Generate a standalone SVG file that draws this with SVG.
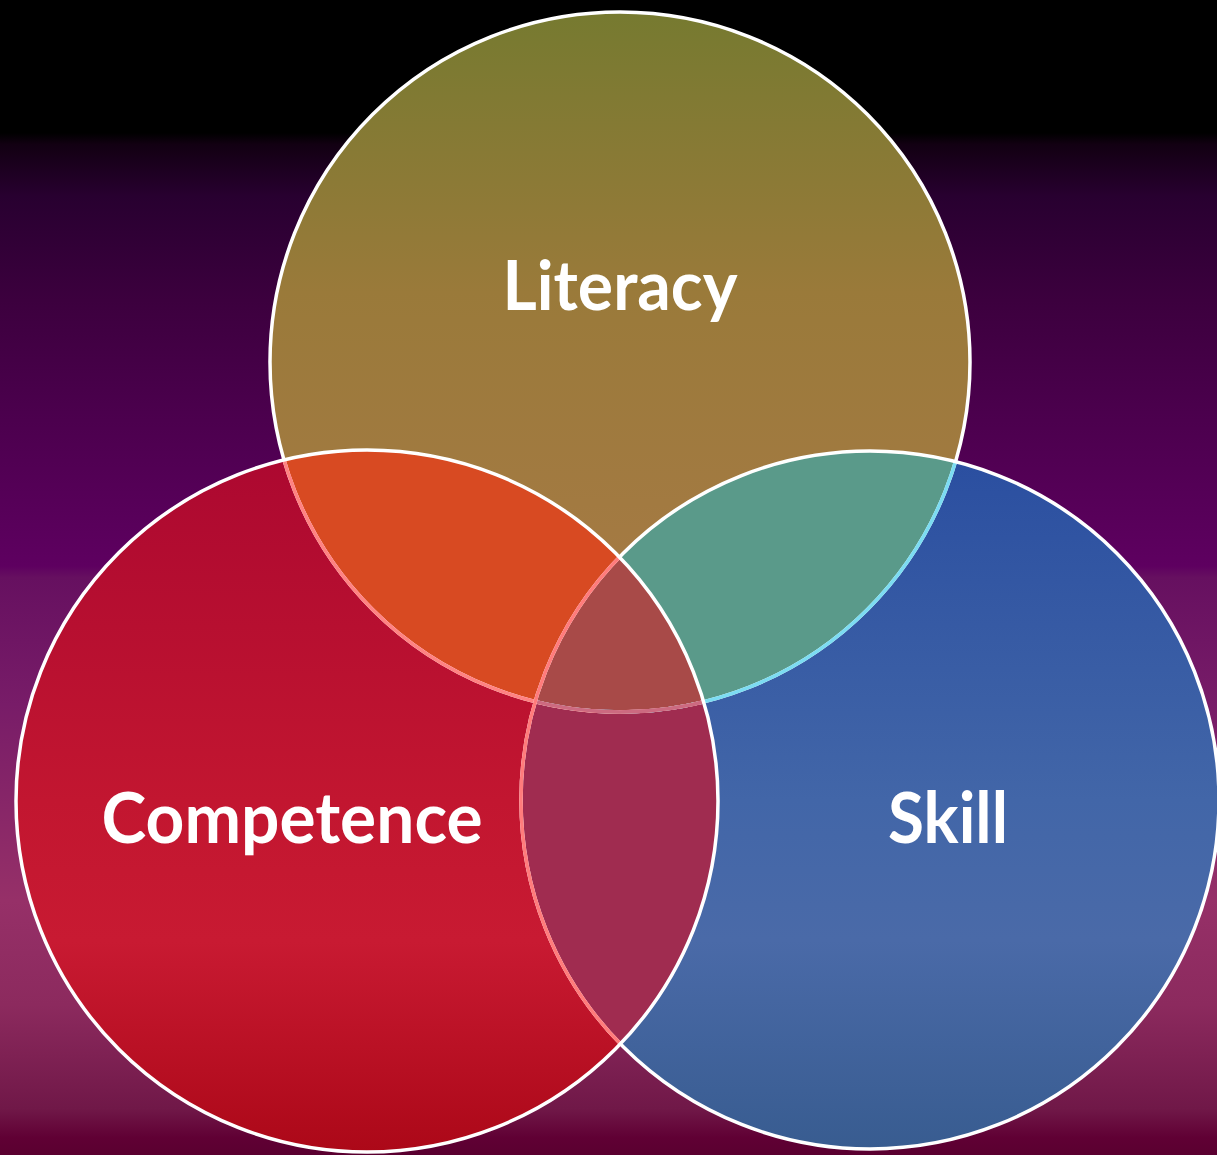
<svg xmlns="http://www.w3.org/2000/svg" width="1217" height="1155" viewBox="0 0 1217 1155">
  <style>
    .lbl { font-family: "Lato", "Open Sans", "Liberation Sans", sans-serif; font-weight: bold; fill: #ffffff; text-anchor: middle; }
    .edge { fill: none; stroke-width: 3.5; }
  </style>
  <defs>
    <linearGradient id="bg" x1="0" y1="0" x2="0" y2="1155" gradientUnits="userSpaceOnUse">
      <stop offset="0" stop-color="#000000"/>
      <stop offset="0.115" stop-color="#000000"/>
      <stop offset="0.125" stop-color="#120012"/>
      <stop offset="0.17" stop-color="#280030"/>
      <stop offset="0.26" stop-color="#3c003e"/>
      <stop offset="0.35" stop-color="#4a004c"/>
      <stop offset="0.49" stop-color="#5e0060"/>
      <stop offset="0.50" stop-color="#661060"/>
      <stop offset="0.61" stop-color="#781c68"/>
      <stop offset="0.78" stop-color="#963068"/>
      <stop offset="0.87" stop-color="#8c2a5e"/>
      <stop offset="0.96" stop-color="#701848"/>
      <stop offset="0.985" stop-color="#600034"/>
      <stop offset="1" stop-color="#5a0030"/>
    </linearGradient>
    <linearGradient id="gLit" x1="0" y1="12" x2="0" y2="713" gradientUnits="userSpaceOnUse">
      <stop offset="0" stop-color="#767a30"/>
      <stop offset="0.4" stop-color="#9a7a3a"/>
      <stop offset="1" stop-color="#aa7a48"/>
    </linearGradient>
    <linearGradient id="gComp" x1="0" y1="450" x2="0" y2="1152" gradientUnits="userSpaceOnUse">
      <stop offset="0" stop-color="#ac0830"/>
      <stop offset="0.5" stop-color="#c21630"/>
      <stop offset="0.7" stop-color="#c81a32"/>
      <stop offset="1" stop-color="#ac0818"/>
    </linearGradient>
    <linearGradient id="gSkill" x1="0" y1="450" x2="0" y2="1150" gradientUnits="userSpaceOnUse">
      <stop offset="0" stop-color="#2a4ea0"/>
      <stop offset="0.5" stop-color="#4266a8"/>
      <stop offset="0.7" stop-color="#4a6aa8"/>
      <stop offset="1" stop-color="#385c90"/>
    </linearGradient>
    <clipPath id="cLit"><circle cx="620" cy="362" r="350"/></clipPath>
    <clipPath id="cComp"><circle cx="367" cy="801" r="351"/></clipPath>
    <clipPath id="cSkill"><circle cx="870" cy="800" r="349"/></clipPath>
  </defs>

  <rect x="0" y="0" width="1217" height="1155" fill="url(#bg)"/>

  <g id="literacy">
    <circle cx="620" cy="362" r="350" fill="url(#gLit)"/>
  </g>
  <g id="skill">
    <circle cx="870" cy="800" r="349" fill="url(#gSkill)"/>
  </g>
  <g id="competence">
    <circle cx="367" cy="801" r="351" fill="url(#gComp)"/>
  </g>

  <g id="overlaps">
    <circle cx="367" cy="801" r="351" fill="#d84a22" clip-path="url(#cLit)"/>
    <circle cx="870" cy="800" r="349" fill="#5a9a8a" clip-path="url(#cLit)"/>
    <circle cx="367" cy="801" r="351" fill="#a02c50" clip-path="url(#cSkill)"/>
    <g clip-path="url(#cLit)">
      <circle cx="367" cy="801" r="351" fill="#a84a48" clip-path="url(#cSkill)"/>
    </g>
  </g>

  <g id="outlines">
    <circle class="edge" cx="620" cy="362" r="350" stroke="#ffffff"/>
    <circle class="edge" cx="620" cy="362" r="350" stroke="#7cdcf2" clip-path="url(#cSkill)"/>
    <circle class="edge" cx="620" cy="362" r="350" stroke="#ff8282" clip-path="url(#cComp)"/>
    <g clip-path="url(#cComp)">
      <circle class="edge" cx="620" cy="362" r="350" stroke="#cc6a80" clip-path="url(#cSkill)"/>
    </g>
    <circle class="edge" cx="870" cy="800" r="349" stroke="#ffffff"/>
    <circle class="edge" cx="870" cy="800" r="349" stroke="#ff7c7c" clip-path="url(#cComp)"/>
    <circle class="edge" cx="367" cy="801" r="351" stroke="#ffffff"/>
  </g>

  <g id="labels">
    <text class="lbl" x="620" y="310" font-size="68" textLength="235" lengthAdjust="spacingAndGlyphs">Literacy</text>
    <text class="lbl" x="292" y="843" font-size="70" textLength="381" lengthAdjust="spacingAndGlyphs">Competence</text>
    <text class="lbl" x="948" y="843" font-size="70" textLength="120" lengthAdjust="spacingAndGlyphs">Skill</text>
  </g>
</svg>
